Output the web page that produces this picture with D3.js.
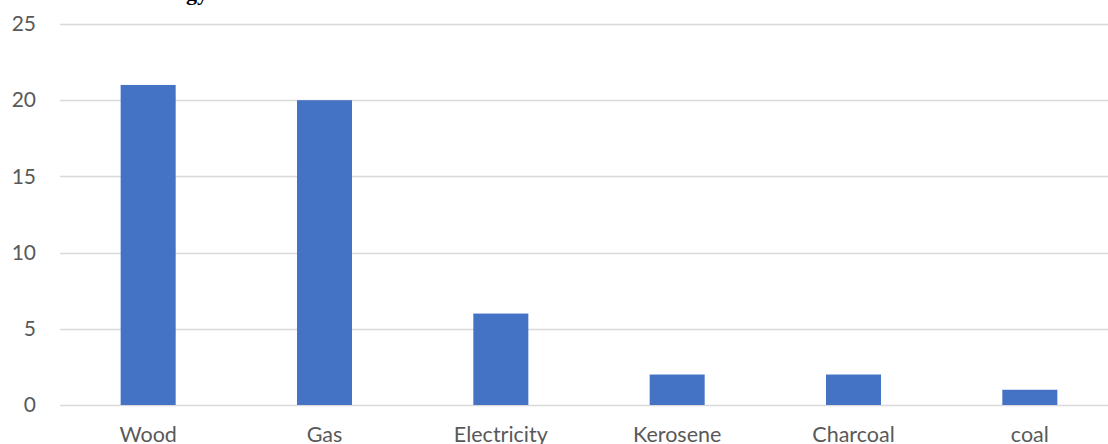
<!DOCTYPE html>
<html>
<head>
<meta charset="utf-8">
<script src="https://cdn.jsdelivr.net/npm/d3@7"></script>
<style>
  html, body { margin: 0; padding: 0; background: #fff; }
  svg { display: block; }
</style>
</head>
<body>
<svg id="chart" width="1108" height="444"></svg>
<script>
const categories = ["Wood", "Gas", "Electricity", "Kerosene", "Charcoal", "coal"];
const values = [21, 20, 6, 2, 2, 1];
const yTicks = [0, 5, 10, 15, 20, 25];
const title = "Sources of Energy";

(function () {
  const svg = d3.select("#chart");
  const plotLeft = 60, plotRight = 1118, plotTop = 24, plotBottom = 405;

  const x = d3.scaleBand()
    .domain(categories)
    .range([plotLeft, plotRight])
    .paddingInner(0.688)
    .paddingOuter(0.344);

  const y = d3.scaleLinear().domain([0, 25]).range([plotBottom, plotTop]);

  // title (sits mostly above the top edge)
  svg.append("text")
    .attr("x", 208)
    .attr("y", 0)
    .attr("text-anchor", "end")
    .attr("font-family", "Liberation Serif, Times New Roman, serif")
    .attr("font-weight", "bold")
    .attr("font-size", 22)
    .attr("fill", "#000")
    .text(title);

  // horizontal gridlines
  svg.append("g")
    .selectAll("line")
    .data(yTicks)
    .join("line")
    .attr("x1", plotLeft)
    .attr("x2", 1108)
    .attr("y1", d => Math.round(y(d)) + 0.5)
    .attr("y2", d => Math.round(y(d)) + 0.5)
    .attr("stroke", "#d9d9d9")
    .attr("stroke-width", 1.3);

  // y axis labels
  const yAxis = d3.axisLeft(y).tickValues(yTicks).tickSize(0).tickPadding(0);
  const gy = svg.append("g").attr("transform", "translate(36,0)").call(yAxis);
  gy.select(".domain").remove();
  gy.selectAll("text")
    .attr("font-family", "Lato, Open Sans, sans-serif")
    .attr("font-size", 21)
    .attr("fill", "#595959");

  // bars
  svg.append("g")
    .selectAll("rect")
    .data(values)
    .join("rect")
    .attr("x", (d, i) => x(categories[i]))
    .attr("width", x.bandwidth())
    .attr("y", d => y(d))
    .attr("height", d => y(0) - y(d))
    .attr("fill", "#4472c4");

  // category labels
  const xAxis = d3.axisBottom(x).tickSize(0).tickPadding(0);
  const gx = svg.append("g").attr("transform", "translate(0,427)").call(xAxis);
  gx.select(".domain").remove();
  gx.selectAll("text")
    .attr("font-family", "Lato, Open Sans, sans-serif")
    .attr("font-size", 21.5)
    .attr("fill", "#595959");
})();
</script>
</body>
</html>
